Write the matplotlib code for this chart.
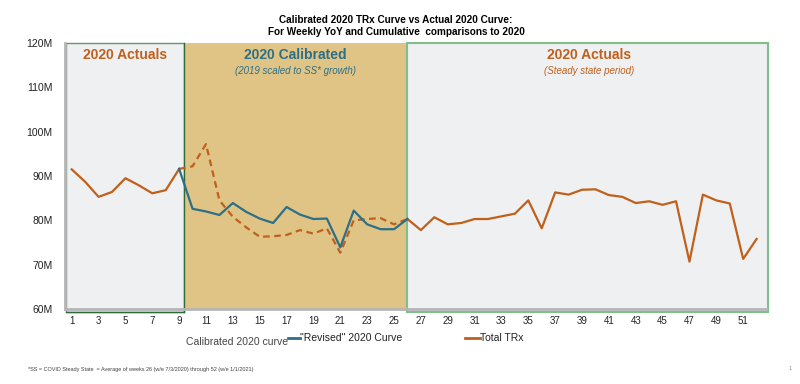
import numpy as np
import matplotlib.pyplot as plt
from matplotlib.patches import Rectangle
from matplotlib.lines import Line2D

plt.rcParams['font.family'] = ['Liberation Sans', 'DejaVu Sans']

# weekly values, millions of TRx
weeks = list(range(1, 53))
total_trx = [91.5, 88.7, 85.3, 86.4, 89.5, 87.9, 86.1, 86.8, 91.6,
             None, None, None, None, None, None, None, None, None, None,
             None, None, None, None, None, None,
             80.3, 77.8, 80.7, 79.1, 79.4, 80.3, 80.3, 80.9, 81.5, 84.5,
             78.2, 86.3, 85.8, 86.9, 87.0, 85.7, 85.3, 83.9, 84.3, 83.5,
             84.3, 70.7, 85.8, 84.5, 83.8, 71.3, 75.8]
calib_weeks = list(range(9, 27))
calibrated = [91.6, 92.2, 97.2, 84.5, 80.8, 78.4, 76.3, 76.4, 76.7,
              77.8, 77.0, 78.2, 72.7, 80.0, 80.3, 80.5, 79.1, 80.3]
revised = [91.6, 82.6, 82.0, 81.2, 83.9, 81.9, 80.4, 79.4, 83.0,
           81.3, 80.3, 80.4, 73.9, 82.2, 79.1, 78.0, 78.0, 80.3]

yticks = [60, 70, 80, 90, 100, 110, 120]
xticks = list(range(1, 52, 2))

orange = '#c0601b'
teal = '#2d6f87'

fig = plt.figure(figsize=(8, 3.84), dpi=100)
ax = fig.add_axes([0.08125, 0.1953, 0.87625, 0.6927])

# shaded periods
ax.add_patch(Rectangle((0.55, 59.3), 9.33 - 0.55, 120 - 59.3, facecolor='#eff0f2',
                       edgecolor='#5c9a66', lw=1, zorder=0, clip_on=False))
ax.add_patch(Rectangle((9.33, 60), 26 - 9.33, 60, facecolor='#e0c486',
                       edgecolor='none', zorder=0, clip_on=False))
ax.add_patch(Rectangle((26, 59.3), 52.86 - 26, 120 - 59.3, facecolor='#eff0f2',
                       edgecolor='#7fbf8c', lw=1.5, zorder=0, clip_on=False))
ax.plot([9.33, 9.33], [59.3, 120], color='#2f6b3a', lw=1, zorder=1, clip_on=False)
ax.plot([0.55, 9.33], [59.3, 59.3], color='#2f6b3a', lw=1, zorder=1, clip_on=False)

tt = np.array([np.nan if v is None else v for v in total_trx])
ax.plot(weeks, tt, color=orange, lw=1.6, zorder=3)
ax.plot(calib_weeks, calibrated, color=orange, lw=1.6, ls=(0, (3, 2)), zorder=3)
ax.plot(calib_weeks, revised, color=teal, lw=1.6, zorder=4)

ax.set_xlim(0.5, 52.7)
ax.set_ylim(60, 120)
ax.set_yticks(yticks)
ax.set_yticklabels([f'{v}M' for v in yticks])
ax.set_xticks(xticks)
ax.tick_params(length=0, labelsize=7, colors='#222222')
ax.tick_params(axis='x', pad=5)
ax.tick_params(axis='y', pad=9, labelsize=7.5)
for s in ['top', 'right']:
    ax.spines[s].set_visible(False)
for s in ['left', 'bottom']:
    ax.spines[s].set_color('#b5b5b5')
    ax.spines[s].set_linewidth(2)
    ax.spines[s].set_zorder(2)

ax.text(4.94, 117.2, '2020 Actuals', color=orange, fontsize=10, fontweight='bold',
        ha='center', va='center')
ax.text(17.67, 117.2, '2020 Calibrated', color=teal, fontsize=10, fontweight='bold',
        ha='center', va='center')
ax.text(17.67, 113.7, '(2019 scaled to SS* growth)', color=teal, fontsize=7,
        style='italic', ha='center', va='center')
ax.text(39.5, 117.2, '2020 Actuals', color=orange, fontsize=10, fontweight='bold',
        ha='center', va='center')
ax.text(39.5, 113.7, '(Steady state period)', color=orange, fontsize=7,
        style='italic', ha='center', va='center')

fig.text(0.495, 0.96, 'Calibrated 2020 TRx Curve vs Actual 2020 Curve:\n'
         'For Weekly YoY and Cumulative  comparisons to 2020',
         ha='center', va='top', fontsize=7.2, fontweight='bold', linespacing=1.15)

# legend row
fig.text(288 / 800, 1 - 342 / 384, 'Calibrated 2020 curve', ha='right', va='center',
         fontsize=7.5, color='#444444')
fig.add_artist(Line2D([288 / 800, 300 / 800], [1 - 338 / 384] * 2, color=teal, lw=2))
fig.text(300 / 800, 1 - 338 / 384, '"Revised" 2020 Curve', ha='left', va='center',
         fontsize=7.5, color='#222222')
fig.add_artist(Line2D([465 / 800, 480 / 800], [1 - 338 / 384] * 2, color=orange, lw=2))
fig.text(480 / 800, 1 - 338 / 384, 'Total TRx', ha='left', va='center',
         fontsize=7.5, color='#222222')

fig.text(28 / 800, 1 - 370 / 384,
         '*SS = COVID Steady State  = Average of weeks 26 (w/e 7/3/2020) through 52 (w/e 1/1/2021)',
         ha='left', va='center', fontsize=4, color='#444444')
fig.text(790 / 800, 1 - 369 / 384, '1', ha='center', va='center', fontsize=4, color='#888888')

fig.savefig('out.png', dpi=100)
